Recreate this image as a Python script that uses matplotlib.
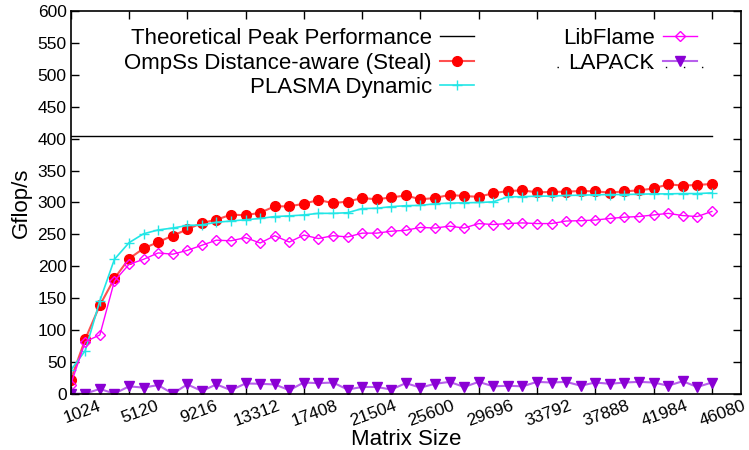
import numpy as np
import matplotlib
matplotlib.use('Agg')
from matplotlib import pyplot as plt
from matplotlib.transforms import ScaledTranslation

plt.rcParams['font.family'] = ['Liberation Sans', 'DejaVu Sans']

# matrix sizes, one run every 1024
sizes = [1024 * (k + 1) for k in range(45)]

peak = [404] * 45

ompss = [22, 86, 139, 181, 212, 228, 238, 248, 258, 268, 273, 281, 280, 284, 294, 294,
         298, 304, 299, 301.5, 307, 305, 308, 311, 305, 307, 312, 310, 309, 314.5, 318,
         319, 316, 316.5, 317, 318, 317.5, 315.5, 317.5, 319, 322, 328.5, 326.5, 327.5, 329]

plasma = [37, 68, 146, 211, 237, 251, 257, 260, 264, 265, 269, 271, 273, 275, 278, 279,
          280.5, 283, 283, 284, 290.5, 291, 293.5, 295, 295.5, 298, 299, 299.5, 300, 301, 309,
          309, 310, 310, 311, 311.5, 312, 312.5, 312.5, 313, 313.5, 313.5, 314, 314, 315]

libflame = [14.6, 82, 92.5, 177, 203, 211, 221, 219, 225, 233, 241, 240, 245, 236.5, 248, 238,
            249, 243.5, 248, 246, 252, 252, 255, 256.5, 261, 260, 263, 260, 267, 265.5, 267,
            268, 267, 267, 271, 271.5, 272.5, 275, 277, 278, 280.5, 283, 279.5, 278, 286]

lapack = [0.5, 0.5, 8, 0.5, 12, 10, 14, 0.5, 15, 4.7, 15, 6, 16.5, 16, 15, 6,
          18, 17, 18, 7, 11, 11, 7, 17, 10, 16, 19, 11, 19, 12, 13,
          12, 19, 18, 19, 13, 18, 16, 18, 19, 18, 13, 20, 11, 18]

xtick_vals = list(range(1024, 46081, 4096))

fig = plt.figure(figsize=(7.49, 4.5), dpi=100)
ax = fig.add_axes([70.7 / 749, 1 - 394 / 450, (741 - 70.7) / 749, (394 - 11) / 450])

ax.plot(sizes, peak, color='black', lw=1.0, label='Theoretical Peak Performance')
ax.plot(sizes, ompss, color='#ff5050', lw=1.5, marker='o', ms=7,
        mfc='red', mec='red', label='OmpSs Distance-aware (Steal)')
ax.plot(sizes, plasma, color='#22e6e6', lw=1.2, marker='+', ms=7, mew=1.0,
        label='PLASMA Dynamic')
ax.plot(sizes, libflame, color='#ff00ff', lw=1.0, marker='D', ms=5.5,
        mfc='none', mec='#ff00ff', mew=1.0, label='LibFlame')
ax.plot(sizes, lapack, color='#b860ec', lw=1.5, marker='v', ms=6.5,
        mfc='#8a00d4', mec='#8a00d4', label='LAPACK')

ax.set_xlim(1024, 48128)
ax.set_ylim(0, 600)
ax.set_xticks(xtick_vals)
ax.set_xticklabels([str(v) for v in xtick_vals])
ax.set_yticks(range(0, 601, 50))
ax.tick_params(direction='in', length=6, width=1, top=True, right=True,
               labelsize=12.5, colors='black', pad=3)
for s in ax.spines.values():
    s.set_linewidth(1.2)

off = ScaledTranslation(8 / 72, 0, fig.dpi_scale_trans)
for lbl in ax.get_xticklabels():
    lbl.set_rotation(20)
    lbl.set_ha('center')
    lbl.set_transform(lbl.get_transform() + off)

ax.set_xlabel('Matrix Size', fontsize=16, labelpad=0)
ax.set_ylabel('Gflop/s', fontsize=16, labelpad=4)

ax.legend(ncol=2, markerfirst=False, frameon=False, fontsize=16,
          handlelength=1.55, handletextpad=0.35, columnspacing=4.0,
          labelspacing=0.16, borderpad=0, borderaxespad=0,
          loc='upper right', bbox_to_anchor=(697 / 749, 1 - 28 / 450),
          bbox_transform=fig.transFigure)

# stray dotted rule under the LAPACK key
ax.plot([0.7255, 0.946], [0.8546, 0.8546], transform=ax.transAxes,
        color='black', lw=1.0, ls=(0, (1, 12)))

fig.savefig('out.png', dpi=100)
